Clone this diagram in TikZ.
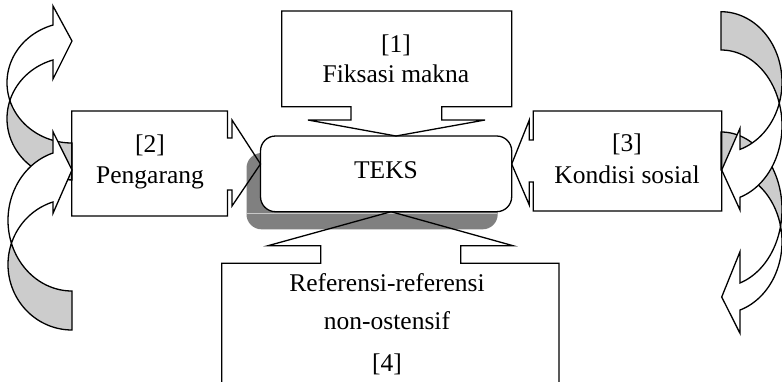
\documentclass[tikz,border=0pt]{standalone}
\usepackage{tikz}
\usepackage{fontspec}
\setmainfont{Liberation Serif}
\definecolor{bandgray}{RGB}{204,204,204}
\definecolor{shadowgray}{RGB}{128,128,128}
\definecolor{shadowline}{RGB}{200,200,200}
\tikzset{
  outline/.style={draw=black, line width=1.3pt, line join=miter},
  backband/.style={outline, fill=bandgray},
  frontband/.style={outline, fill=white},
  callout/.style={draw=black, line width=1.3pt, line join=miter},
  lbl/.style={anchor=base, inner sep=0pt, font=\fontsize{25.5}{30}\selectfont},
}
\begin{document}
\begin{tikzpicture}[x=1pt,y=-1pt]
\useasboundingbox (0,0) rectangle (782,381);
\clip (0,0) rectangle (782,381);
% ---- left upper curved arrow
\path[backband] plot[domain=197.2:90,samples=50] ({72+65*cos(\x)},{118.6+61.3*sin(\x)})
  -- plot[domain=90:162.8,samples=50] ({72+65*cos(\x)},{82.7+60.3*sin(\x)}) -- cycle;
\path[frontband] plot[domain=253:162.8,samples=50] ({72+65*cos(\x)},{82.7+60.3*sin(\x)})
  -- plot[domain=197.2:253,samples=50] ({72+65*cos(\x)},{118.6+61.3*sin(\x)})
  -- (53,79) -- (72,41) -- (53,6) -- cycle;
% ---- left lower curved arrow
\path[backband] plot[domain=198.9:90,samples=50] ({72+64*cos(\x)},{264.5+65.5*sin(\x)})
  -- plot[domain=90:161.1,samples=50] ({72+64*cos(\x)},{220.4+70.6*sin(\x)}) -- cycle;
\path[frontband] plot[domain=252.7:161.1,samples=50] ({72+64*cos(\x)},{220.4+70.6*sin(\x)})
  -- plot[domain=198.9:252.7,samples=50] ({72+64*cos(\x)},{264.5+65.5*sin(\x)})
  -- (53,213.3) -- (72,170) -- (53,131.7) -- cycle;
% ---- right lower curved arrow
\path[backband] plot[domain=12.5:-90,samples=50] ({721+61*cos(\x)},{209.4+77.4*sin(\x)})
  -- plot[domain=-90:-12.6,samples=50] ({721+61*cos(\x)},{241.8+71.8*sin(\x)}) -- cycle;
\path[frontband] plot[domain=71.9:-12.6,samples=50] ({721+61*cos(\x)},{241.8+71.8*sin(\x)})
  -- plot[domain=12.5:71.9,samples=50] ({721+61*cos(\x)},{209.4+77.4*sin(\x)})
  -- (740,251.7) -- (721.7,297) -- (740,333.3) -- cycle;
% ---- right upper curved arrow
\path[backband] plot[domain=17.2:-90,samples=50] ({721+61*cos(\x)},{82.3+70.6*sin(\x)})
  -- plot[domain=-90:-17.2,samples=50] ({721+61*cos(\x)},{125.5+75.5*sin(\x)}) -- cycle;
\path[frontband] plot[domain=71.9:-17.2,samples=50] ({721+61*cos(\x)},{125.5+75.5*sin(\x)})
  -- plot[domain=17.2:71.9,samples=50] ({721+61*cos(\x)},{82.3+70.6*sin(\x)})
  -- (740,128.3) -- (721.7,170) -- (740,210) -- cycle;
% ---- shadow and TEKS box
\fill[shadowgray, rounded corners=15pt] (246.5,153) rectangle (497.7,229.3);
\draw[shadowline, line width=0.8pt] (247,213.3) -- (497,213.3);
\node[draw=black, line width=1.3pt, fill=white, rounded corners=15pt,
  minimum width=251.2pt, minimum height=75.7pt, inner sep=0pt] (teks) at (386.1,173.85) {};
% ---- callouts
\draw[callout] (281.7,11) -- (511.7,11) -- (511.7,106.7) -- (441.7,106.7) -- (441.7,120)
  -- (485,120) -- (396,136) -- (308,120) -- (351,120) -- (351,106.7) -- (281.7,106.7) -- cycle;
\draw[callout] (71.7,111) -- (227.5,111) -- (227.5,138) -- (232,138) -- (232,120)
  -- (260.5,164) -- (232,206) -- (232,190) -- (227.5,190) -- (227.5,216) -- (71.7,216) -- cycle;
\draw[callout] (721.7,111) -- (533.3,111) -- (533.3,140) -- (529.3,140) -- (529.3,120)
  -- (511.7,164) -- (529.3,205) -- (529.3,182) -- (533.3,182) -- (533.3,211) -- (721.7,211) -- cycle;
\draw[callout] (221.7,263.3) -- (320.7,263.3) -- (320.7,245.7) -- (268,245.7) -- (391,211.7)
  -- (513,245.7) -- (460.7,245.7) -- (460.7,263.3) -- (559,263.3) -- (559,395) -- (221.7,395) -- cycle;
% ---- texts
\node[lbl] (l1a) at (396,52) {[1]};
\node[lbl] (l1b) at (396,82.5) {Fiksasi makna};
\node[lbl] (l2a) at (150,152) {[2]};
\node[lbl] (l2b) at (150,183) {Pengarang};
\node[lbl] (lt) at (386,178) {TEKS};
\node[lbl] (l3a) at (627,151) {[3]};
\node[lbl] (l3b) at (627,183) {Kondisi sosial};
\node[lbl] (l4a) at (387,291.5) {Referensi-referensi};
\node[lbl] (l4b) at (387,329) {non-ostensif};
\node[lbl] (l4c) at (387,371) {[4]};
\end{tikzpicture}
\end{document}
